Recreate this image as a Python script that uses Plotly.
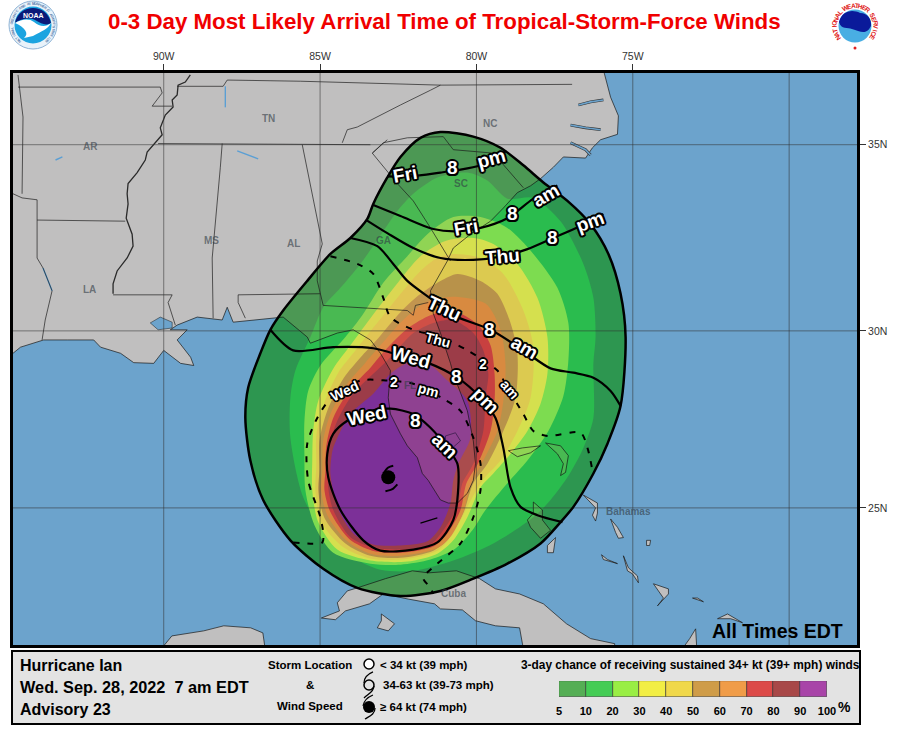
import numpy as np
import plotly.graph_objects as go

# contour bands, lon/lat, outermost first
BAND_COLORS = ["#2d9650", "#2abc4e", "#7ddc50", "#d5e04e", "#dcca50", "#b8924a", "#d88a40", "#c84040", "#9c3c48", "#7c3098"]
P5_LON = [-81.15, -80.10, -79.23, -78.50, -77.86, -77.09, -76.35, -75.78, -75.39, -75.23, -75.39, -75.81, -76.26, -76.90, -77.31, -77.95, -79.01, -80.10, -81.15, -82.43, -83.81, -84.90, -85.95, -86.82, -87.23, -87.39, -87.30, -86.91, -86.59, -86.18, -85.41, -84.67, -84.03, -83.49, -83.30, -82.85, -82.43, -81.79]
P5_LAT = [35.33, 35.21, 34.92, 34.46, 34.01, 33.52, 32.90, 32.10, 31.02, 29.83, 27.91, 26.84, 25.99, 25.03, 24.59, 23.97, 23.38, 22.94, 22.58, 22.43, 22.67, 23.23, 24.06, 25.23, 26.36, 27.57, 28.42, 29.38, 30.03, 30.56, 31.37, 32.10, 32.53, 33.04, 33.44, 34.14, 34.68, 35.18]
P10_LON = [-82.53, -82.02, -81.25, -80.29, -79.65, -79.01, -78.18, -77.31, -76.58, -76.26, -76.19, -76.26, -76.26, -76.58, -77.09, -77.63, -78.18, -79.46, -80.74, -82.02, -83.07, -83.94, -84.90, -85.54, -85.95, -85.95, -85.79, -85.31, -84.90, -84.35, -83.71, -82.98]
P10_LAT = [33.25, 33.71, 34.14, 34.27, 34.06, 33.58, 33.60, 32.98, 31.83, 30.91, 29.83, 29.10, 27.57, 26.72, 25.88, 25.23, 24.73, 23.97, 23.47, 23.17, 23.20, 23.56, 24.35, 25.31, 27.01, 28.14, 28.90, 29.83, 30.65, 31.18, 31.83, 32.71]
P20_LON = [-80.74, -79.87, -79.01, -78.18, -77.41, -77.06, -77.06, -77.22, -77.70, -78.37, -79.01, -79.71, -80.13, -80.67, -81.47, -82.43, -83.39, -84.58, -85.18, -85.47, -85.50, -85.50, -85.38, -84.99, -84.19, -83.65, -82.98, -82.21, -81.57]
P20_LAT = [33.09, 33.09, 32.80, 32.10, 31.18, 30.22, 29.18, 28.19, 27.20, 26.36, 25.71, 24.94, 24.35, 23.82, 23.50, 23.35, 23.38, 23.70, 24.50, 25.51, 26.50, 27.49, 28.33, 29.04, 29.83, 30.43, 31.32, 32.04, 32.63]
P30_LON = [-80.10, -79.46, -78.69, -78.05, -77.73, -77.73, -77.95, -78.37, -78.91, -79.46, -79.87, -80.29, -80.74, -81.25, -82.21, -83.39, -84.45, -85.06, -85.25, -85.25, -85.22, -85.06, -84.58, -84.03, -83.39, -82.59, -81.79, -80.99]
P30_LAT = [32.53, 32.37, 31.83, 30.91, 29.83, 28.81, 27.97, 27.20, 26.55, 25.99, 25.59, 24.73, 24.06, 23.67, 23.44, 23.47, 23.79, 24.59, 25.51, 26.36, 27.20, 28.05, 28.95, 29.60, 30.35, 31.24, 32.04, 32.45]
P40_LON = [-80.74, -79.87, -79.14, -78.50, -78.18, -78.27, -78.69, -79.23, -79.81, -80.29, -80.74, -81.25, -82.43, -83.39, -84.29, -84.96, -85.15, -85.12, -85.12, -84.90, -84.42, -83.87, -83.23, -82.50, -81.79, -81.25]
P40_LAT = [32.10, 31.99, 31.56, 30.56, 29.55, 28.14, 27.20, 26.36, 25.79, 25.03, 24.26, 23.76, 23.50, 23.53, 23.88, 24.59, 25.51, 26.21, 27.06, 27.91, 28.84, 29.46, 30.16, 30.94, 31.64, 31.99]
P50_LON = [-80.61, -79.87, -79.33, -78.91, -78.69, -78.75, -79.14, -79.65, -80.10, -80.42, -80.93, -81.38, -82.43, -83.39, -84.19, -84.86, -85.06, -85.02, -85.02, -84.77, -84.26, -83.65, -83.14, -82.43, -81.86, -81.15]
P50_LAT = [31.56, 31.37, 31.02, 30.22, 29.38, 28.14, 27.20, 26.27, 25.71, 24.85, 24.06, 23.76, 23.55, 23.61, 23.97, 24.71, 25.51, 26.07, 26.92, 27.77, 28.67, 29.32, 29.80, 30.51, 30.97, 31.37]
P60_LON = [-80.77, -79.71, -79.23, -79.07, -79.14, -79.33, -79.78, -80.19, -80.42, -80.80, -81.28, -82.43, -83.39, -84.13, -84.77, -84.96, -84.93, -84.90, -84.67, -84.13, -83.55, -83.07, -82.34, -81.63]
P60_LAT = [30.94, 30.75, 30.03, 29.04, 28.05, 27.20, 26.36, 25.65, 24.88, 24.20, 23.82, 23.61, 23.67, 24.03, 24.79, 25.51, 26.07, 26.92, 27.68, 28.53, 29.12, 29.60, 30.30, 30.78]
P70_LON = [-80.77, -79.94, -79.55, -79.42, -79.42, -79.55, -79.94, -80.32, -80.51, -80.93, -81.38, -82.43, -83.33, -84.06, -84.67, -84.86, -84.83, -84.80, -84.58, -84.03, -83.39, -82.98, -82.18, -81.47]
P70_LAT = [30.56, 30.16, 29.60, 28.81, 28.05, 27.20, 26.30, 25.71, 24.94, 24.26, 23.88, 23.70, 23.76, 24.09, 24.88, 25.51, 26.07, 26.78, 27.57, 28.39, 28.98, 29.41, 30.08, 30.43]
P80_LON = [-80.74, -80.10, -79.78, -79.62, -79.71, -79.78, -80.10, -80.45, -80.61, -81.06, -81.47, -82.43, -83.30, -84.03, -84.58, -84.74, -84.74, -84.74, -84.45, -83.94, -83.30, -82.85, -82.02, -81.38]
P80_LAT = [30.30, 29.94, 29.46, 28.81, 28.14, 27.20, 26.27, 25.71, 25.03, 24.35, 23.94, 23.79, 23.85, 24.15, 24.94, 25.59, 26.07, 26.64, 27.49, 28.25, 28.81, 29.18, 29.94, 30.22]
P90_LON = [-82.21, -81.57, -80.93, -80.29, -80.19, -80.58, -80.74, -80.83, -81.15, -81.57, -82.43, -83.30, -83.94, -84.45, -84.67, -84.64, -84.58, -84.03, -83.30, -82.75]
P90_LAT = [29.10, 29.10, 28.62, 28.05, 27.01, 26.27, 25.79, 25.14, 24.44, 24.03, 23.91, 23.94, 24.26, 25.03, 25.99, 26.44, 26.72, 27.68, 28.25, 28.81]
BANDS = [(P5_LON, P5_LAT), (P10_LON, P10_LAT), (P20_LON, P20_LAT), (P30_LON, P30_LAT), (P40_LON, P40_LAT),
         (P50_LON, P50_LAT), (P60_LON, P60_LAT), (P70_LON, P70_LAT), (P80_LON, P80_LAT), (P90_LON, P90_LAT)]

# arrival time lines
FRI_8PM = ([-82.85, -82.11, -81.15, -80.64, -79.87, -79.04], [34.17, 34.17, 34.27, 34.33, 34.46, 34.84])
FRI_8AM = ([-83.30, -82.43, -81.38, -80.61, -79.87, -79.01, -78.18, -77.41], [33.41, 33.12, 32.77, 32.71, 32.80, 33.06, 33.58, 33.93])
THU_8PM = ([-83.52, -82.85, -82.02, -81.15, -80.10, -79.14, -78.37, -77.54, -76.67, -75.94], [33.01, 32.66, 32.26, 31.99, 31.94, 32.04, 32.23, 32.53, 32.85, 33.17])
THU_8AM = ([-84.03, -83.17, -82.66, -82.21, -81.47, -80.74, -79.55, -78.50, -77.63, -76.90, -76.26, -75.71, -75.39], [32.53, 32.31, 31.83, 31.37, 30.89, 30.43, 30.03, 29.46, 28.96, 28.84, 28.70, 28.33, 27.91])
WED_8PM = ([-86.59, -85.86, -84.58, -83.30, -82.66, -81.57, -80.61, -79.87, -79.39, -79.14, -78.91, -78.59, -78.05, -77.25], [30.03, 29.46, 29.55, 29.52, 29.38, 29.12, 28.70, 28.14, 27.57, 26.72, 25.59, 25.03, 24.79, 24.59])
WED_8AM = ([-84.13, -84.58, -84.77, -84.74, -84.35, -83.62, -83.07, -82.02, -81.25, -80.74, -80.58, -80.61, -80.93, -81.47, -82.02, -82.75, -83.39, -84.13], [27.49, 27.12, 26.55, 25.88, 24.94, 24.06, 23.76, 23.79, 24.00, 24.65, 25.59, 26.27, 26.72, 27.29, 27.68, 27.83, 27.77, 27.49])
WED_2PM = ([-85.86, -84.93, -84.90, -84.99, -85.38, -85.41, -85.09, -84.67, -83.71, -82.85, -82.02, -81.06, -80.51, -80.10, -79.87, -79.87, -80.10, -80.51, -81.25, -81.70, -81.47, -81.38], [24.00, 24.00, 24.26, 24.73, 25.79, 26.84, 27.57, 28.11, 28.62, 28.62, 28.53, 28.11, 27.77, 27.01, 26.27, 25.51, 24.73, 23.97, 23.38, 22.96, 22.67, 22.49])
THU_2AM = ([-84.67, -83.81, -83.30, -82.98, -82.75, -82.02, -81.15, -80.29, -79.33, -79.01, -78.50, -78.18, -77.73, -76.67, -76.45, -76.29], [32.04, 31.83, 31.56, 30.91, 30.38, 30.03, 29.83, 29.46, 28.90, 28.42, 27.68, 27.20, 27.06, 27.15, 26.72, 26.07])
SOLID_LINES = [FRI_8PM, FRI_8AM, THU_8PM, THU_8AM, WED_8PM, WED_8AM]
DASHED_LINES = [WED_2PM, THU_2AM]

# labels on the time lines: text, lon, lat, angle
BIG_LABELS = [("Fri", -82.30, 34.22, -10), ("8", -80.77, 34.41, 0), ("pm", -79.52, 34.65, -15),
              ("Fri", -80.32, 32.82, -10), ("8", -78.85, 33.19, 0), ("am", -77.79, 33.67, -30),
              ("Thu", -79.17, 32.04, -5), ("8", -77.57, 32.53, 0), ("pm", -76.35, 32.96, -20),
              ("Thu", -81.02, 30.62, 25), ("8", -79.58, 30.03, 0), ("am", -78.46, 29.55, 30),
              ("Wed", -82.08, 29.26, 15), ("8", -80.64, 28.73, 0), ("pm", -79.71, 28.05, 45),
              ("Wed", -83.49, 27.63, -12), ("8", -81.95, 27.49, 0), ("am", -81.02, 26.78, 45)]
SMALL_LABELS = [("Wed", -84.22, 28.33, -25), ("2", -82.64, 28.59, 0), ("pm", -81.54, 28.36, 15),
                ("Thu", -81.22, 29.75, 15), ("2", -79.78, 29.07, 0), ("am", -78.94, 28.39, 50)]

# land
MAINLAND = ([-75.94, -75.71, -75.46, -75.49, -76.03, -76.29, -76.51, -77.22, -77.54, -77.95, -78.27, -78.69, -79.14, -79.55, -80.19, -80.74, -80.93, -81.25, -81.47, -81.38, -81.15, -80.83, -80.74, -80.29, -80.10, -80.03, -80.10, -80.29, -80.61, -80.90, -81.15, -81.54, -81.73, -81.89, -82.21, -82.43, -82.75, -82.82, -82.75, -83.07, -83.39, -83.94, -84.45, -85.31, -85.41, -86.18, -87.14, -87.78, -87.97, -88.13, -88.93, -89.57, -89.79, -89.25, -89.57, -89.14, -89.04, -89.46, -90.00, -90.32, -90.96, -91.38, -92.02, -92.24, -93.07, -93.84, -94.58, -94.82, -96.0, -96.0, -75.94],
            [36.93, 36.23, 35.75, 35.27, 35.13, 34.92, 34.65, 34.68, 34.41, 34.11, 33.92, 33.74, 33.33, 32.98, 32.63, 32.26, 31.91, 31.45, 31.10, 30.48, 29.94, 29.10, 28.81, 27.77, 26.92, 26.27, 25.79, 25.42, 25.14, 25.14, 25.23, 25.79, 25.99, 26.44, 26.78, 27.12, 27.68, 28.14, 28.90, 29.38, 29.75, 30.03, 29.94, 29.66, 29.83, 30.38, 30.30, 30.24, 30.65, 30.30, 30.38, 30.16, 30.03, 30.03, 29.75, 29.27, 29.04, 29.10, 29.46, 29.10, 29.12, 29.38, 29.55, 29.75, 29.75, 29.75, 29.55, 29.38, 29.0, 37.5, 37.5])
CUBA = ([-84.96, -84.38, -84.45, -84.13, -83.81, -82.91, -82.05, -81.54, -80.64, -79.90, -79.39, -78.62, -77.86, -77.12, -76.35, -75.58, -75.58, -78.43, -78.62, -79.39, -80.03, -80.45, -81.15, -81.34, -82.18, -82.98, -83.42, -84.19, -84.51],
        [21.78, 21.99, 22.23, 22.58, 22.67, 22.94, 23.17, 23.11, 23.17, 22.94, 22.64, 22.49, 22.20, 21.61, 21.17, 21.02, 20.5, 20.5, 21.49, 21.55, 21.70, 22.02, 22.05, 22.20, 22.34, 22.49, 22.20, 21.99, 21.73])
YOUTH = ([-83.04, -82.62, -82.82, -83.17, -83.04], [21.90, 21.61, 21.40, 21.49, 21.70])
YUCATAN = ([-90.40, -89.74, -88.72, -88.08, -87.22, -86.83, -86.70], [20.5, 21.25, 21.40, 21.55, 21.49, 21.34, 20.5])
HISPANIOLA = ([-73.70, -73.18, -72.99, -72.93], [20.5, 21.17, 21.46, 20.5])
GRAND_BAHAMA = ([-78.98, -78.53, -77.95, -78.27, -78.69], [26.64, 26.72, 26.78, 26.58, 26.47])
ABACO = ([-77.79, -77.31, -77.06, -77.15, -77.31, -77.22, -77.41], [26.86, 26.78, 26.50, 26.02, 25.93, 26.27, 26.55])
ANDROS = ([-78.18, -77.89, -77.89, -77.63, -77.95, -78.27, -78.37, -78.18], [25.17, 24.94, 24.65, 24.35, 24.12, 24.44, 24.65, 24.85])
EXUMA_N = ([-77.47, -77.54, -77.73, -77.73], [24.14, 23.70, 23.70, 23.91])
ELEUTHERA = ([-76.58, -76.13, -76.13, -76.19, -76.29, -76.19], [25.37, 25.14, 24.85, 24.62, 24.79, 25.00])
CAT = ([-75.71, -75.49, -75.30, -75.46, -75.55], [24.68, 24.44, 24.14, 24.12, 24.29])
EXUMA = ([-76.00, -75.81, -75.49, -75.94], [23.64, 23.50, 23.38, 23.50])
LONG_I = ([-75.30, -75.14, -74.85, -74.82, -75.01, -75.17], [23.61, 23.26, 23.02, 22.82, 23.08, 23.17])
SAN_SALVADOR = ([-74.56, -74.43, -74.46, -74.56], [24.06, 24.06, 23.91, 23.91])
ACKLINS = ([-74.34, -73.86, -73.86, -74.21, -74.02, -74.27], [22.79, 22.64, 22.49, 22.14, 22.37, 22.67])
MAYAGUANA = ([-73.09, -72.74, -72.93], [22.37, 22.26, 22.37])
INAGUA = ([-72.29, -71.97, -71.49, -71.87], [21.76, 21.90, 21.64, 21.76])
LAND = [MAINLAND, CUBA, YOUTH, YUCATAN, HISPANIOLA, GRAND_BAHAMA, ABACO, ANDROS, EXUMA_N, ELEUTHERA, CAT, EXUMA, LONG_I, SAN_SALVADOR, ACKLINS, MAYAGUANA, INAGUA]
PONTCHARTRAIN = ([-90.43, -90.11, -89.73, -89.73, -90.18], [30.22, 30.38, 30.24, 30.08, 30.03])
OKEECHOBEE = ([-80.99, -80.67, -80.51, -80.77, -80.99, -80.99], [27.06, 27.15, 26.92, 26.72, 26.84, 27.06])
KEYS = ([-81.79, -81.25], [24.56, 24.71])

MISSISSIPPI = ([-89.15, -89.31, -89.54, -89.57, -89.73, -89.70, -89.95, -90.11, -90.05, -90.27, -90.53, -90.59, -90.85, -91.14, -91.17, -91.14, -91.20, -91.01, -90.98, -91.17, -91.49, -91.62, -91.62],
               [36.80, 36.62, 36.54, 36.29, 36.16, 35.98, 35.77, 35.44, 35.26, 35.05, 34.81, 34.60, 34.27, 33.98, 33.71, 33.44, 33.06, 32.63, 32.31, 31.99, 31.64, 31.29, 31.02])
STATE_LINES = [
    ([-94.66, -90.11, -90.05, -90.37, -89.73], [36.49, 36.49, 36.34, 36.00, 36.00]),
    ([-89.57, -88.10, -87.97, -85.63, -81.15, -76.94], [36.51, 36.51, 36.67, 36.64, 36.54, 36.56]),
    ([-90.18, -83.39], [35.03, 35.00]),
    ([-84.29, -84.13, -83.81, -83.39, -82.43, -81.47, -81.15], [35.05, 35.39, 35.46, 35.64, 36.03, 36.41, 36.54]),
    ([-94.66, -94.50, -94.53], [36.80, 35.72, 33.71]),
    ([-94.82, -94.53, -94.05, -94.05, -93.86, -93.57, -93.79, -93.89], [33.71, 33.60, 33.55, 31.99, 31.72, 31.10, 30.30, 29.75]),
    ([-94.05, -91.23], [33.01, 32.98]),
    ([-91.62, -89.73, -89.86, -89.63], [30.99, 30.99, 30.78, 30.16]),
    ([-88.13, -88.19, -88.45, -88.42], [35.03, 34.41, 31.99, 30.35]),
    ([-87.39, -87.62, -87.62, -84.99], [30.35, 30.78, 30.99, 31.02]),
    ([-85.57, -84.93, -85.09, -85.09, -84.99, -84.90], [35.00, 32.37, 31.91, 31.37, 31.02, 30.70]),
    ([-84.90, -82.21, -82.02, -81.95, -81.54], [30.70, 30.56, 30.43, 30.70, 30.78]),
    ([-80.83, -81.15, -81.47, -82.02, -82.53, -83.33, -82.85], [31.91, 32.37, 32.80, 33.52, 33.98, 34.78, 35.13]),
    ([-83.33, -82.98, -82.21, -81.06, -80.74, -79.46, -78.50], [34.78, 35.05, 35.18, 35.21, 34.87, 34.78, 33.87]),
]
SOUNDS = [
    ([-76.74, -76.35, -75.94], [36.03, 36.11, 36.16]),
    ([-76.99, -76.51, -76.03], [35.51, 35.44, 35.39]),
    ([-76.99, -76.51, -76.35], [35.05, 34.87, 34.73]),
]
WATER_LINES = [
    ([-88.03, -88.03], [36.51, 35.97]),
    ([-87.65, -86.98], [34.84, 34.63]),
    ([-93.46, -93.24], [34.60, 34.68]),
    ([-93.86, -93.57], [31.72, 31.10]),
]

PLACE_NAMES = [("NC", -79.58, 35.55), ("TN", -86.66, 35.67), ("AR", -92.35, 34.95), ("MS", -88.47, 32.46), ("AL", -85.84, 32.38),
               ("LA", -92.38, 31.14), ("GA", -82.98, 32.45), ("SC", -80.48, 33.98), ("FL", -82.14, 28.48), ("Bahamas", -75.14, 24.90), ("Cuba", -80.74, 22.49)]

STORM_LON = -82.82
STORM_LAT = 25.88
ARM_TOP = ([-82.66, -82.82, -82.98], [26.21, 26.16, 25.99])
ARM_BOTTOM = ([-82.53, -82.69, -82.91], [25.68, 25.54, 25.48])

GRID_LONS = [-90, -85, -80, -75, -70]
GRID_LATS = [25, 30, 35]
LON_TICKS = [-90, -85, -80, -75]
LON_LABELS = ["90W", "85W", "80W", "75W"]
LAT_TICKS = [35, 30, 25]
LAT_LABELS = ["35N", "30N", "25N"]
LON_RANGE = [-94.82, -67.83]
LAT_RANGE = [20.98, 36.85]

LEGEND_COLORS = ["#55ae55", "#44cc55", "#99ee44", "#f2ee44", "#f0d84a", "#cf9c48", "#f09c48", "#dc4a48", "#a84848", "#a844a8"]
LEGEND_TICKS = ["5", "10", "20", "30", "40", "50", "60", "70", "80", "90", "100"]

W, H = 897, 736
OCEAN = "#6ca3cc"
FONT = "Liberation Sans"


def merc(lat):
    return np.degrees(np.log(np.tan(np.radians(45 + np.asarray(lat, dtype=float) / 2))))


def closed(seq):
    return list(seq) + [seq[0]]


def fx(x):
    return x / W


def fy(y):
    return 1 - y / H


def halo(r):
    dirs = [(-1, -1), (1, -1), (-1, 1), (1, 1), (0, -1.3), (0, 1.3), (-1.3, 0), (1.3, 0)]
    return ", ".join(f"{a * r:.1f}px {b * r:.1f}px 0 #000" for a, b in dirs)


fig = go.Figure()


def area(lon, lat, fill, line=None, width=0, smooth=False):
    fig.add_trace(go.Scatter(
        x=closed(lon), y=merc(closed(lat)), mode="lines", fill="toself", fillcolor=fill,
        line=dict(color=line or "rgba(0,0,0,0)", width=width, shape="spline" if smooth else "linear", smoothing=0.8),
        hoverinfo="skip", showlegend=False,
    ))


def path(lon, lat, color="black", width=1.0, dash="solid", smooth=False):
    fig.add_trace(go.Scatter(
        x=lon, y=merc(lat), mode="lines",
        line=dict(color=color, width=width, dash=dash, shape="spline" if smooth else "linear", smoothing=0.8),
        hoverinfo="skip", showlegend=False,
    ))


# base land, slightly off grey so the tint laid on later brings it back to neutral
for lon, lat in LAND:
    area(lon, lat, "rgb(181,196,206)")

for (lon, lat), color in zip(BANDS, BAND_COLORS):
    area(lon, lat, color, smooth=True)

# land shows through the bands
for lon, lat in LAND:
    area(lon, lat, "rgba(255,170,110,0.15)", line="rgba(20,20,20,0.85)", width=0.8)
area(*PONTCHARTRAIN, OCEAN, line="rgba(20,20,20,0.7)", width=0.7)

for lon, lat in SOUNDS:
    path(lon, lat, color="#333", width=2.8)
    path(lon, lat, color=OCEAN, width=1.6)
for lon, lat in WATER_LINES:
    path(lon, lat, color="#5b9fd4", width=1.4)
for lon, lat in STATE_LINES:
    path(lon, lat, color="rgba(25,25,25,0.85)", width=0.8)
path(*MISSISSIPPI, color="rgba(25,25,25,0.9)", width=1.3)
path(*OKEECHOBEE, color="rgba(40,20,60,0.8)", width=0.8)
path(*KEYS, color="black", width=1.2)

for lon in GRID_LONS:
    path([lon, lon], LAT_RANGE, color="rgba(50,50,50,0.55)", width=1)
for lat in GRID_LATS:
    path(LON_RANGE, [lat, lat], color="rgba(50,50,50,0.55)", width=1)

path(closed(P5_LON), closed(P5_LAT), width=2.5, smooth=True)
for lon, lat in SOLID_LINES:
    path(lon, lat, width=2.2, smooth=True)
for lon, lat in DASHED_LINES:
    path(lon, lat, width=2, dash="6px,8px", smooth=True)

fig.add_trace(go.Scatter(x=[STORM_LON], y=merc([STORM_LAT]), mode="markers",
                         marker=dict(color="black", size=14), hoverinfo="skip", showlegend=False))
path(*ARM_TOP, width=2, smooth=True)
path(*ARM_BOTTOM, width=2, smooth=True)

# colour key, on its own little axes
fig.add_trace(go.Bar(x=list(range(10)), y=[1] * 10, width=1, marker=dict(color=LEGEND_COLORS, line=dict(color="#333", width=0.6)),
                     xaxis="x2", yaxis="y2", hoverinfo="skip", showlegend=False))

annotations = []


def note(text, x, y, size=11, color="black", anchor="center", bold=True, family=FONT):
    annotations.append(dict(text=text, xref="paper", yref="paper", x=fx(x), y=fy(y), xanchor=anchor, yanchor="middle",
                            showarrow=False, font=dict(family=family, size=size, color=color, weight=700 if bold else 400)))


for name, lon, lat in PLACE_NAMES:
    annotations.append(dict(text=name, x=lon, y=float(merc(lat)), showarrow=False,
                            font=dict(family=FONT, size=10, color="rgba(50,60,70,0.62)", weight=700)))

for labels, size, r in [(BIG_LABELS, 19, 1.5), (SMALL_LABELS, 14, 1.3)]:
    for text, lon, lat, angle in labels:
        annotations.append(dict(text=text, x=lon, y=float(merc(lat)), textangle=angle, showarrow=False,
                                font=dict(family=FONT, size=size, color="white", weight=700, shadow=halo(r))))

note("0-3 Day Most Likely Arrival Time of Tropical-Storm-Force Winds", 444, 21, size=22.3, color="#f00000")
note("All Times EDT", 777, 631, size=19.5)
note("Hurricane Ian", 18, 665, size=16, anchor="left")
note("Wed. Sep. 28, 2022  7 am EDT", 18, 687, size=16.3, anchor="left")
note("Advisory 23", 18, 709, size=16, anchor="left")
note("Storm Location", 310, 665, size=11.5)
note("&", 310, 685, size=11.5)
note("Wind Speed", 310, 706, size=11.5)
note("< 34 kt (39 mph)", 378, 665, size=11.5, anchor="left")
note("34-63 kt (39-73 mph)", 381, 685, size=11.5, anchor="left")
note("≥ 64 kt (74 mph)", 378, 707, size=11.5, anchor="left")
note("3-day chance of receiving sustained 34+ kt (39+ mph) winds", 690, 665, size=11.9)
note("%", 844, 707, size=14)


def ring(text, cx, cy, radius, start, end, size, color):
    for i, ch in enumerate(text):
        if ch == " ":
            continue
        deg = start + (end - start) * i / (len(text) - 1)
        a = np.radians(deg)
        annotations.append(dict(text=ch, xref="paper", yref="paper", x=fx(cx + radius * np.sin(a)), y=fy(cy - radius * np.cos(a)),
                                xanchor="center", yanchor="middle", textangle=deg, showarrow=False,
                                font=dict(family=FONT, size=size, color=color, weight=700)))


def disc(cx, cy, r, fill, line="rgba(0,0,0,0)", width=0):
    return dict(type="circle", xref="paper", yref="paper", x0=fx(cx - r), x1=fx(cx + r), y0=fy(cy + r), y1=fy(cy - r),
                fillcolor=fill, line=dict(color=line, width=width))


def curve(d, fill="rgba(0,0,0,0)", line="rgba(0,0,0,0)", width=0):
    # d is a list of (command, x, y, ...) pieces given in page pixels
    out = []
    for piece in d:
        nums = piece[1:]
        pts = [f"{fx(nums[i]):.4f},{fy(nums[i + 1]):.4f}" for i in range(0, len(nums), 2)]
        out.append(piece[0] + " ".join(pts))
    return dict(type="path", xref="paper", yref="paper", path=" ".join(out) + (" Z" if fill != "rgba(0,0,0,0)" else ""),
                fillcolor=fill, line=dict(color=line, width=width))


shapes = [
    dict(type="rect", xref="paper", yref="paper", x0=fx(12), x1=fx(860), y0=fy(724), y1=fy(651), fillcolor="#e3e3e3", line=dict(color="black", width=2), layer="below"),
    # NOAA logo
    disc(33, 25, 24, "#e8f2fa", "#8fb4d6", 1),
    disc(33, 25, 18.5, "#1ba4e0"),
    curve([("M", 15, 23), ("C", 19, 3, 47, 3, 51, 23), ("C", 46, 26, 42, 24, 35, 20), ("C", 29, 17, 21, 19, 15, 23)], fill="#0a1a78"),
    curve([("M", 15, 23), ("C", 22, 19, 29, 18, 34, 22), ("C", 40, 27, 46, 27, 51, 23), ("C", 48, 29, 42, 31, 33, 36), ("L", 24, 38), ("C", 30, 33, 24, 27, 15, 23)], fill="white"),
    # NWS logo
    disc(855, 26, 24, "white"),
    disc(855, 26, 16.5, "#49aee3"),
    curve([("M", 839, 22), ("C", 842, 11, 852, 9, 860, 13), ("C", 868, 13, 872, 20, 871, 26), ("C", 866, 36, 860, 31, 852, 29), ("C", 848, 27, 841, 30, 839, 22)], fill="#0a1a9a"),
    curve([("M", 848, 10), ("L", 854, 20, 851, 20, 861, 34, 856, 22, 859, 22, 852, 11)], fill="white"),
    disc(855, 48, 1.5, "#e02020"),
    # storm symbols of the key
    disc(369, 664, 5, "white", "black", 1.5),
    disc(369, 685, 5, "rgba(0,0,0,0)", "black", 1.5),
    disc(369, 707, 6, "black"),
    curve([("M", 373, 672), ("C", 368, 674, 364, 677, 364, 683)], line="black", width=1.3),
    curve([("M", 374, 686), ("C", 374, 692, 368, 694, 364, 698)], line="black", width=1.3),
    curve([("M", 373, 695), ("C", 368, 697, 364, 700, 363, 706)], line="black", width=1.3),
    curve([("M", 375, 708), ("C", 375, 714, 370, 716, 365, 719)], line="black", width=1.3),
]

note("NOAA", 33, 16, size=7, color="white")
ring("NATIONAL WEATHER SERVICE", 855, 26, 20.5, -125, 125, 6.5, "#e02020")
ring("NATIONAL OCEANIC AND ATMOSPHERIC ADMINISTRATION", 33, 25, 21, -140, 140, 3.5, "#5578a8")

fig.update_layout(
    width=W, height=H, margin=dict(l=0, r=0, t=0, b=0), paper_bgcolor="white", plot_bgcolor=OCEAN,
    bargap=0, annotations=annotations, shapes=shapes, font=dict(family=FONT),
    xaxis=dict(domain=[13 / W, 857 / W], range=LON_RANGE, side="top", showgrid=False, zeroline=False, tickmode="array", tickvals=LON_TICKS,
               ticktext=LON_LABELS, ticks="outside", ticklen=6, tickwidth=1, tickcolor="#333", tickfont=dict(size=10.5, color="#333"),
               showline=True, mirror=True, linecolor="black", linewidth=3, automargin=False),
    yaxis=dict(domain=[1 - 645 / H, 1 - 73 / H], range=[float(merc(LAT_RANGE[0])), float(merc(LAT_RANGE[1]))], side="right", showgrid=False, zeroline=False,
               tickmode="array", tickvals=[float(v) for v in merc(LAT_TICKS)], ticktext=LAT_LABELS, ticks="outside", ticklen=6, tickwidth=1, tickcolor="#333",
               tickfont=dict(size=10.5, color="#333"), showline=True, mirror=True, linecolor="black", linewidth=3, automargin=False),
    xaxis2=dict(domain=[559 / W, 827 / W], anchor="y2", range=[-0.5, 9.5], tickmode="array", tickvals=[i - 0.5 for i in range(11)], ticktext=LEGEND_TICKS,
                ticks="outside", ticklen=4, tickcolor="rgba(0,0,0,0)", tickfont=dict(size=11, color="black", weight=700), showgrid=False, zeroline=False, automargin=False),
    yaxis2=dict(domain=[1 - 697 / H, 1 - 681 / H], anchor="x2", range=[0, 1], visible=False, automargin=False),
)

fig.write_html("out.html", config=dict(displayModeBar=False),
               post_script="document.body.style.margin='0';document.body.style.overflow='hidden';")
